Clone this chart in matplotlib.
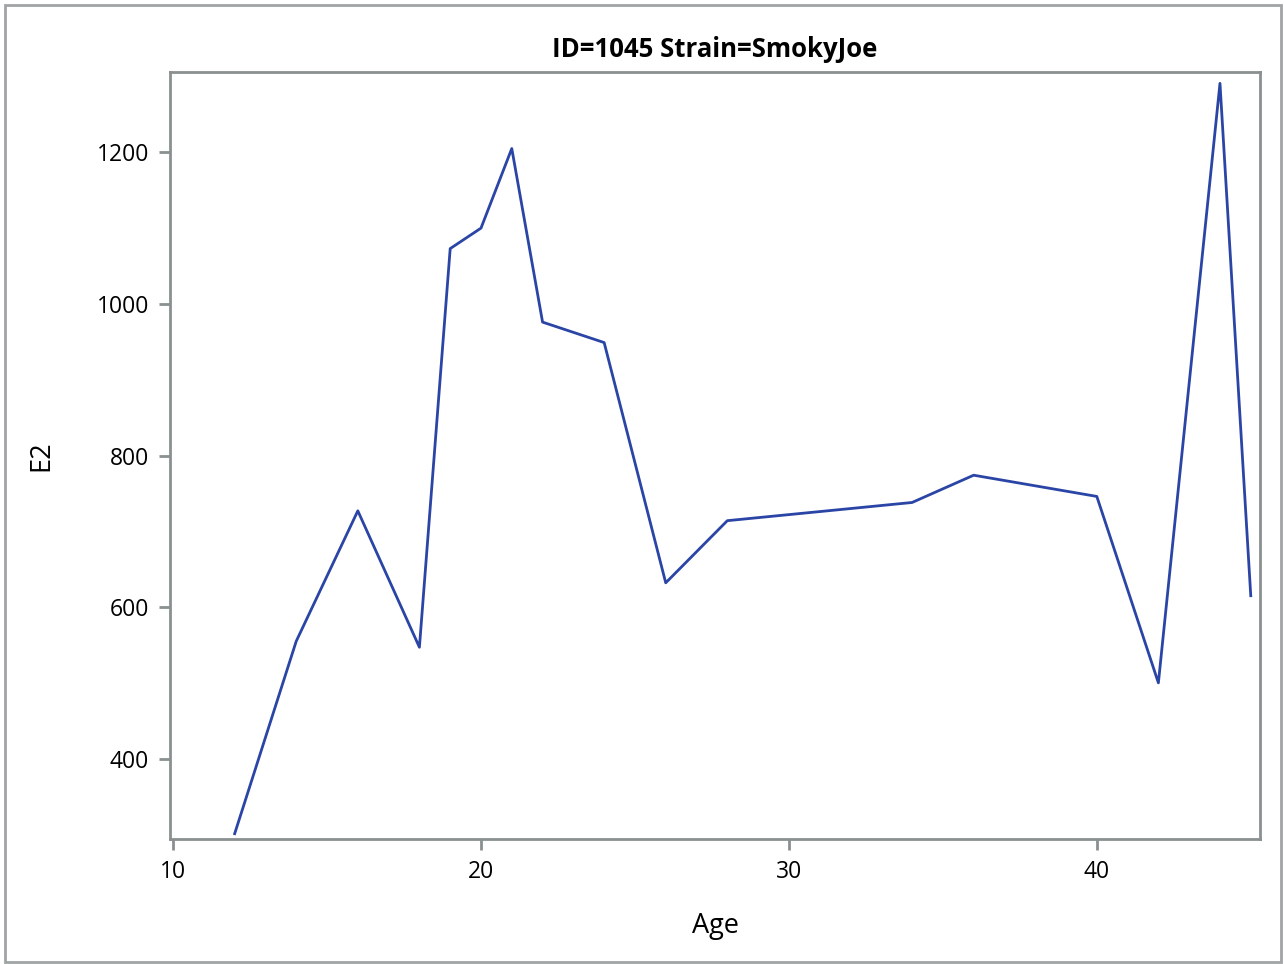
import matplotlib.pyplot as plt
from matplotlib.patches import Rectangle

plt.rcParams['font.family'] = ['Open Sans', 'DejaVu Sans']

# data
age = [12, 14, 16, 18, 19, 20, 21, 22, 24, 26, 28, 34, 36, 40, 42, 44, 45]
e2 = [301, 555, 727, 547, 1073, 1100, 1205, 976, 949, 632, 714, 738, 774, 746, 500, 1291, 615]

xticks = [10, 20, 30, 40]
yticks = [400, 600, 800, 1000, 1200]

fig = plt.figure(figsize=(12.84, 9.64), dpi=100)
ax = fig.add_axes([170 / 1284, 1 - 839 / 964, 1090 / 1284, 767 / 964])

ax.plot(age, e2, color='#2a45a5', linewidth=2)

ax.set_xlim(9.9, 45.3)
ax.set_ylim(294, 1306)
ax.set_xticks(xticks)
ax.set_yticks(yticks)

for s in ax.spines.values():
    s.set_color('#8a9090')
    s.set_linewidth(2)
ax.tick_params(colors='#8a9090', width=2, length=8, labelsize=16.5, labelcolor='black', pad=7)

ax.set_xlabel('Age', fontsize=19.5, labelpad=20)
ax.set_ylabel('E2', fontsize=19.5, labelpad=30)
ax.set_title('ID=1045 Strain=SmokyJoe', fontsize=18.5, fontweight='bold', pad=11)

# outer frame around the whole graph
fig.patches.append(Rectangle((5 / 1284, 2 / 964), 1276 / 1284, 957 / 964, transform=fig.transFigure,
                             fill=False, edgecolor='#a0a4a4', linewidth=2))

fig.savefig('out.png', dpi=100)
